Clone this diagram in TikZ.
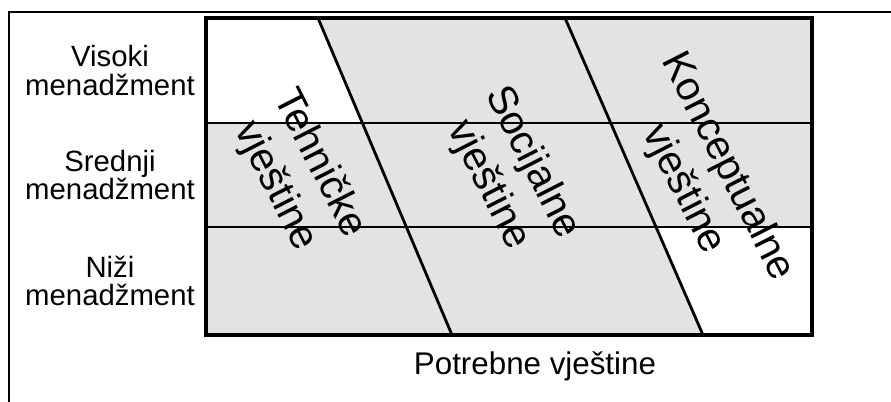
\documentclass[tikz,border=0pt]{standalone}
\usepackage{fontspec}
\setmainfont{Liberation Sans}
\usepackage{tikz}
\definecolor{skillgray}{RGB}{227,227,227}
\tikzset{every picture/.style={line width=0.75pt}}

\begin{document}
\begin{tikzpicture}[x=0.75pt,y=0.75pt,yscale=-1,xscale=1,
  levellabel/.style={align=center,inner sep=0.75pt,font=\fontsize{22}{21.5}\selectfont},
  skilllabel/.style={align=center,inner sep=0.75pt,rotate=-63,font=\fontsize{30.5}{37}\selectfont}]
\useasboundingbox (0,0) rectangle (891,402);

%Shape: Frame [id:outer]
\draw [line width=1.5]  (9,402) -- (9,12) -- (891,12) ;
%Shape: Rectangle [id:background]
\fill [skillgray]  (206,18) rectangle (812,335) ;
%Shape: Polygon [id:white top left]
\fill [white]  (206,18) -- (318,18) -- (362.4,123) -- (206,123) -- cycle ;
%Shape: Polygon [id:white bottom right]
\fill [white]  (656,227) -- (812,227) -- (812,335) -- (703,335) -- cycle ;
%Straight Lines [id:rows]
\draw [line width=2.1]  (206,123) -- (812,123) ;
\draw [line width=2.1]  (206,227) -- (812,227) ;
%Straight Lines [id:diagonals]
\draw [line width=2.1]  (318,18) -- (452,335) ;
\draw [line width=2.1]  (565,18) -- (703,335) ;
%Shape: Rectangle [id:border]
\draw [line width=2.6]  (206,18) rectangle (812,335) ;

% Text Node
\node (visoki) at (110,70.5) [levellabel] {Visoki\\menadžment};
% Text Node
\node (srednji) at (110,175) [levellabel] {Srednji\\menadžment};
% Text Node
\node (nizi) at (110,281) [levellabel] {Niži\\menadžment};
% Text Node
\node (potrebne) at (535,366) [levellabel,font=\fontsize{23.5}{23}\selectfont] {Potrebne vještine};

% Text Node
\node (tehnicke) at (297,175) [skilllabel] {Tehničke\\vještine};
% Text Node
\node (socijalne) at (510,174) [skilllabel] {Socijalne\\vještine};
% Text Node
\node (konceptualne) at (705,178) [skilllabel] {Konceptualne\\vještine};

\end{tikzpicture}
\end{document}
